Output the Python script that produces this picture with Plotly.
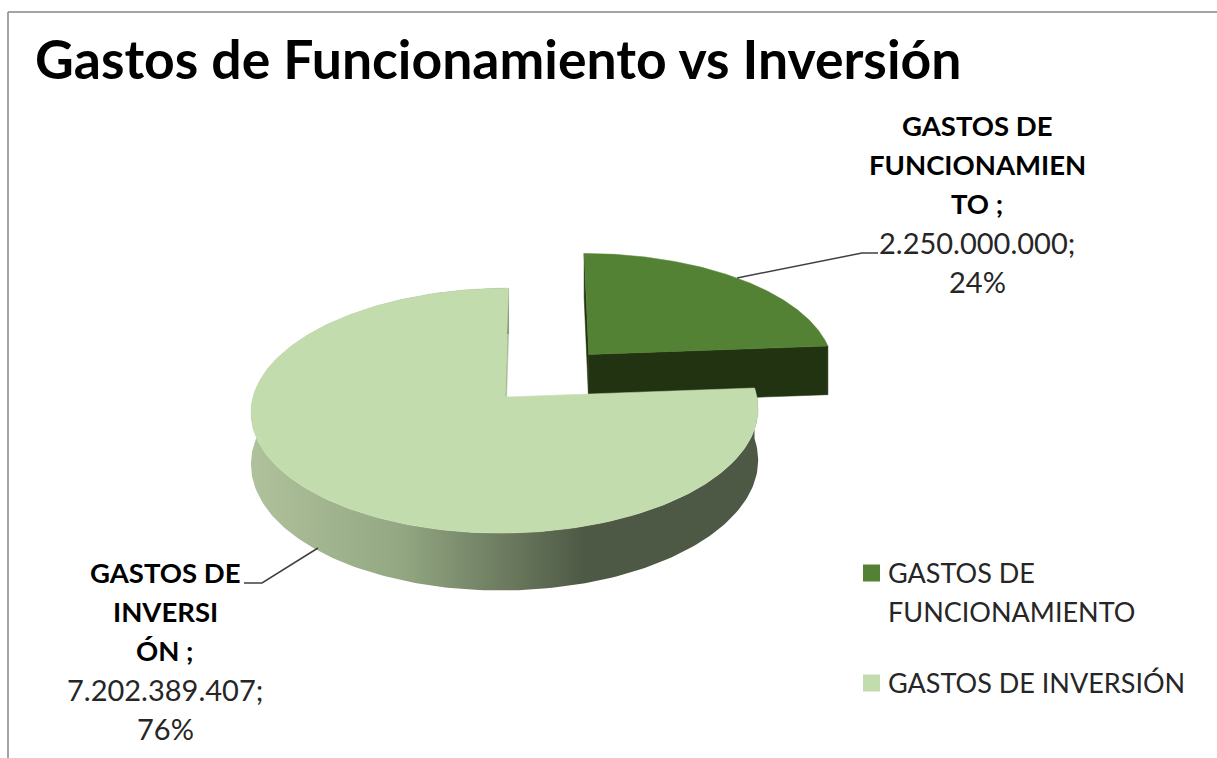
import numpy as np
import plotly.graph_objects as go

# --- data ---
categories = ["GASTOS DE FUNCIONAMIENTO", "GASTOS DE INVERSIÓN"]
values = [2250000000, 7202389407]
percent_labels = ["24%", "76%"]
value_labels = ["2.250.000.000;", "7.202.389.407;"]
title_text = "Gastos de Funcionamiento vs Inversión"

# --- style ---
TOP = ["#548235", "#C3DCAE"]
DARK_WALL = "#223311"
FONT = "Lato"
CX, CY, RX, RY, PERSP, SHEAR, DEPTH, EXPLODE = 505, 397, 252, 121, 0.111, 4, 51, 0.5


def project(u, v, z=0.0):
    s = 1.0 / (1.0 + PERSP * v)
    return CX + (RX * u + SHEAR * v) * s, CY - RY * v * s + DEPTH * z * s


total = sum(values)
a0 = 0.0
a1 = 2 * np.pi * values[0] / total
a2 = 2 * np.pi
mid = (a0 + a1) / 2
du, dv = EXPLODE * np.sin(mid), EXPLODE * np.cos(mid)


def sector(start, end, off=(0, 0)):
    t = np.linspace(start, end, 240)
    u = np.r_[0, np.sin(t), 0] + off[0]
    v = np.r_[0, np.cos(t), 0] + off[1]
    return project(u, v)


def rim_wall(start, end, off=(0, 0)):
    t = np.linspace(start, end, 240)
    u = np.sin(t) + off[0]
    v = np.cos(t) + off[1]
    x1, y1 = project(u, v)
    x2, y2 = project(u, v, 1.0)
    return np.r_[x1, x2[::-1], x1[0]], np.r_[y1, y2[::-1], y1[0]]


def radial_wall(ang, off=(0, 0)):
    u = np.array([0, np.sin(ang)]) + off[0]
    v = np.array([0, np.cos(ang)]) + off[1]
    x1, y1 = project(u, v)
    x2, y2 = project(u, v, 1.0)
    return np.r_[x1, x2[::-1], x1[0]], np.r_[y1, y2[::-1], y1[0]]


def poly(x, y, color, **kw):
    return go.Scatter(x=x, y=y, mode="lines", fill="toself", fillcolor=color,
                      line=dict(width=0.5, color=color), showlegend=False,
                      hoverinfo="skip", **kw)


fig = go.Figure()

# exploded dark slice
off = (du, dv)
x, y = radial_wall(a0, off)
fig.add_trace(poly(x, y, DARK_WALL))
x, y = radial_wall(a1, off)
fig.add_trace(poly(x, y, DARK_WALL))
x, y = sector(a0, a1, off)
fig.add_trace(poly(x, y, TOP[0]))

# light slice: radial inner wall, rim wall with gradient, top
x, y = radial_wall(a2)
fig.add_trace(poly(x, y, "#A9BC96"))
x, y = rim_wall(a1, a2)
fig.add_trace(go.Scatter(
    x=x, y=y, mode="lines", fill="toself", line=dict(width=0), showlegend=False,
    hoverinfo="skip",
    fillgradient=dict(type="horizontal", start=250, stop=757,
                      colorscale=[[0, "#AFC29C"], [0.3, "#93A782"],
                                  [0.66, "#4E5945"], [1, "#4E5945"]])))
x, y = sector(a1, a2)
fig.add_trace(poly(x, y, TOP[1]))

# legend: swatches and text placed so the wrapped entry keeps its swatch on the first line
fig.add_trace(go.Scatter(x=[871.5, 871.5], y=[573, 683], mode="markers", showlegend=False,
                         hoverinfo="skip",
                         marker=dict(symbol="square", size=17, color=TOP, line=dict(width=0))))
for ly, text in [(572, "GASTOS DE"), (611, "FUNCIONAMIENTO"), (682, "GASTOS DE INVERSIÓN")]:
    fig.add_annotation(x=886, y=ly, xref="x", yref="y", showarrow=False, xanchor="left",
                       text=text, font=dict(family=FONT, size=27, color="#262626"))

# leader lines
for xs, ys in [((737, 862, 878), (278, 253, 253)), ((318, 262, 244), (548, 583, 583))]:
    fig.add_trace(go.Scatter(x=list(xs), y=list(ys), mode="lines", showlegend=False,
                             hoverinfo="skip", line=dict(color="#404040", width=1.5)))

# data labels, one annotation per line
label_lines = [
    (977, [(125, "GASTOS DE", True), (164, "FUNCIONAMIEN", True), (203, "TO ;", True),
           (242, value_labels[0], False), (281, percent_labels[0], False)]),
    (165, [(572, "GASTOS DE", True), (611, "INVERSI", True), (650, "ÓN ;", True),
           (689, value_labels[1], False), (728, percent_labels[1], False)]),
]
for cx, lines in label_lines:
    for ly, text, bold in lines:
        fig.add_annotation(x=cx, y=ly, xref="x", yref="y", showarrow=False,
                           text=f"<b>{text}</b>" if bold else text,
                           font=dict(family=FONT, size=27.5 if bold else 29,
                                     color="#000000" if bold else "#262626"))

fig.update_layout(
    width=1217, height=758, margin=dict(l=0, r=0, t=0, b=0),
    paper_bgcolor="white", plot_bgcolor="white", showlegend=False,
    title=dict(text=f"<b>{title_text}</b>", x=35 / 1217, xanchor="left", y=1 - 60 / 758,
               yanchor="middle", font=dict(family=FONT, size=53.5, color="#000000")),
    xaxis=dict(range=[0, 1217], visible=False, fixedrange=True),
    yaxis=dict(range=[758, 0], visible=False, fixedrange=True),
    shapes=[
        dict(type="line", xref="x", yref="y", x0=8, y0=12, x1=1217, y1=12,
             line=dict(color="#868686", width=1.5)),
        dict(type="line", xref="x", yref="y", x0=8, y0=12, x1=8, y1=758,
             line=dict(color="#868686", width=1.5)),
    ],
)

fig.write_html("out.html", config={"displayModeBar": False},
               post_script="document.body.style.margin='0';")
